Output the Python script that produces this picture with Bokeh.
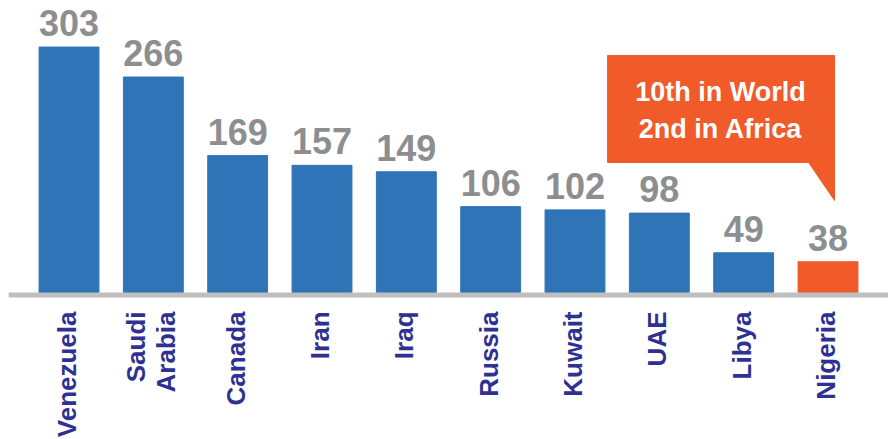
import math
from bokeh.plotting import figure
from bokeh.models import FactorRange, Range1d, Span, ColumnDataSource
from bokeh.core.properties import value
from bokeh.embed import file_html
from bokeh.resources import INLINE

# ---- data ----
countries = ["Venezuela", "Saudi Arabia", "Canada", "Iran", "Iraq",
             "Russia", "Kuwait", "UAE", "Libya", "Nigeria"]
reserves = [303, 266, 169, 157, 149, 106, 102, 98, 49, 38]
highlight = "Nigeria"
callout_lines = ["10th in World", "2nd in Africa"]

BLUE = "#2E74B7"
ORANGE = "#F15A29"
GRAY_TXT = "#8D8E90"
NAVY = "#2E3192"
AXIS_GRAY = "#BFBFBF"
FONT = value("Liberation Sans")

src = ColumnDataSource(dict(
    country=countries,
    reserve=reserves,
    label=[c.replace(" ", "\n") for c in countries],
    value_txt=[str(v) for v in reserves],
    color=[ORANGE if c == highlight else BLUE for c in countries],
))

p = figure(
    x_range=FactorRange(factors=countries, range_padding=0.2175,
                        range_padding_units="absolute"),
    y_range=Range1d(-181.5, 360.5),
    width=888, height=439,
    output_backend="svg", toolbar_location=None,
    min_border=0, min_border_left=8,
)
p.axis.visible = False
p.grid.visible = False
p.outline_line_color = None

# baseline
p.add_layout(Span(location=-3.1, dimension="width", line_color=AXIS_GRAY,
                  line_width=5))

p.vbar(x="country", top="reserve", width=0.71, color="color", source=src)

# value labels
p.text(x="country", y="reserve", text="value_txt", source=src,
       text_align="center", text_baseline="middle", y_offset=-24,
       text_font=FONT, text_font_style="bold", text_font_size="36px",
       text_color=GRAY_TXT)

# category labels (rotated)
p.text(x="country", y=0, text="label", source=src,
       angle=math.pi / 2, text_align="right", text_baseline="middle",
       y_offset=19, x_offset=-2, text_line_height=1.0,
       text_font=FONT, text_font_style="bold", text_font_size="26px",
       text_color=NAVY)

# callout (synthetic categorical coordinates)
p.patch(x=[6.886, 9.578, 9.578, 9.270, 6.886],
        y=[292.6, 292.6, 113.6, 160.5, 160.5],
        fill_color=ORANGE, line_color=ORANGE)
p.text(x=[8.226], y=[224.7], text=["\n".join(callout_lines)],
       text_align="center", text_baseline="middle", text_line_height=1.25,
       text_font=FONT, text_font_style="bold", text_font_size="27px",
       text_color="white")

open("out.html", "w").write(file_html(p, INLINE))
